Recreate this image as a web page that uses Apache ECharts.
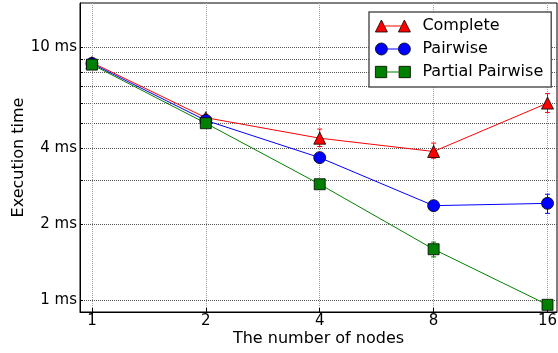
<!DOCTYPE html>
<html><head><meta charset="utf-8">
<script src="https://cdn.jsdelivr.net/npm/echarts@6/dist/echarts.min.js"></script>
<style>html,body{margin:0;padding:0;background:#fff}#c{width:558px;height:353px}</style>
</head><body><div id="c"></div>
<script>
// ---- data ----
const nodes = [1, 2, 4, 8, 16];
const seriesNames = ['Complete', 'Pairwise', 'Partial Pairwise'];
const completeMean = [8.72, 5.28, 4.38, 3.88, 6.03];
const completeLow  = [8.40, 5.18, 4.06, 3.65, 5.54];
const completeHigh = [9.10, 5.40, 4.76, 4.19, 6.57];
const pairwiseMean = [8.64, 5.15, 3.67, 2.37, 2.42];
const pairwiseLow  = [8.45, 5.05, 3.58, 2.30, 2.21];
const pairwiseHigh = [8.85, 5.25, 3.77, 2.45, 2.63];
const partialMean  = [8.56, 5.02, 2.88, 1.594, 0.961];
const partialLow   = [8.40, 4.95, 2.82, 1.486, 0.940];
const partialHigh  = [8.72, 5.10, 2.95, 1.700, 0.985];
const xTickValues = [1, 2, 4, 8, 16];
const yLabelValues = [1, 2, 4, 10];
const yGridValues = [1, 2, 3, 4, 5, 6, 7, 8, 9, 10];

const colors = ['#ff0000', '#0000ff', '#008000'];
const symbols = ['triangle', 'circle', 'rect'];
const symbolSizes = [[12, 12], 12, 11];
const means = [completeMean, pairwiseMean, partialMean];
const lows = [completeLow, pairwiseLow, partialLow];
const highs = [completeHigh, pairwiseHigh, partialHigh];

const FONT = 'DejaVu Sans';

function errRender(color) {
  return function (params, api) {
    const x = api.value(0), lo = api.value(1), hi = api.value(2);
    const p1 = api.coord([x, lo]), p2 = api.coord([x, hi]);
    const w = 2.5;
    const st = { stroke: color, lineWidth: 1 };
    return { type: 'group', children: [
      { type: 'line', shape: { x1: p1[0], y1: p1[1], x2: p2[0], y2: p2[1] }, style: st },
      { type: 'line', shape: { x1: p1[0] - w, y1: p1[1], x2: p1[0] + w, y2: p1[1] }, style: st },
      { type: 'line', shape: { x1: p2[0] - w, y1: p2[1], x2: p2[0] + w, y2: p2[1] }, style: st }
    ]};
  };
}

const series = [];
seriesNames.forEach((name, i) => {
  series.push({
    type: 'custom', name: name + ' error', z: 2 + i * 2,
    renderItem: errRender(colors[i]),
    encode: { x: 0, y: [1, 2] },
    data: nodes.map((n, k) => [n, lows[i][k], highs[i][k]]),
    silent: true
  });
  series.push({
    type: 'line', name: name, z: 3 + i * 2,
    data: nodes.map((n, k) => [n, means[i][k]]),
    symbol: symbols[i], symbolSize: symbolSizes[i],
    lineStyle: { color: colors[i], width: 1 },
    itemStyle: { color: colors[i], borderColor: '#000', borderWidth: 0.8 },
    emphasis: { disabled: true },
    animation: false
  });
});

const markerIcons = [
  'path://M0,12 L6,0 L12,12 Z M23,12 L29,0 L35,12 Z',
  'path://M0,6 A6,6 0 1 1 12,6 A6,6 0 1 1 0,6 Z M23,6 A6,6 0 1 1 35,6 A6,6 0 1 1 23,6 Z',
  'path://M0.5,0.5 L11.5,0.5 L11.5,11.5 L0.5,11.5 Z M23.5,0.5 L34.5,0.5 L34.5,11.5 L23.5,11.5 Z'
];
const lineIcon = 'path://M0,0 L0,0 Z M35,12 L35,12 Z M6,5.5 L29,5.5 L29,6.5 L6,6.5 Z';

const legendCommon = {
  orient: 'vertical', left: 369, top: 12,
  itemWidth: 35, itemHeight: 12, itemGap: 7,
  padding: [6, 8, 7, 6],
  selectedMode: false
};

const option = {
  animation: false,
  textStyle: { fontFamily: FONT },
  grid: { left: 80, right: 1, top: 3, bottom: 41, outerBoundsMode: 'none', containLabel: false,
          show: true, borderColor: '#000', borderWidth: 1, backgroundColor: 'transparent' },
  legend: [
    Object.assign({}, legendCommon, {
      z: 10,
      backgroundColor: '#fff', borderColor: '#555', borderWidth: 1.5, borderRadius: 0,
      data: seriesNames.map((n, i) => ({ name: n, icon: markerIcons[i],
        itemStyle: { color: colors[i], borderColor: '#000', borderWidth: 0.8 } })),
      textStyle: { fontFamily: FONT, fontSize: 16, color: '#000', lineHeight: 16, padding: [0, 0, 0, 7] }
    }),
    Object.assign({}, legendCommon, {
      z: 11,
      data: seriesNames.map((n, i) => ({ name: n, icon: lineIcon,
        itemStyle: { color: colors[i], borderWidth: 0 } })),
      formatter: () => ' ',
      textStyle: { fontFamily: FONT, fontSize: 16, lineHeight: 16 }
    })
  ],
  xAxis: {
    type: 'log', logBase: 2, min: 0.93, max: 16.95,
    name: 'The number of nodes', nameLocation: 'middle', nameGap: 19, nameMoveOverlap: false,
    nameTextStyle: { fontFamily: FONT, fontSize: 16, color: '#000' },
    axisLine: { show: true, lineStyle: { color: '#000', width: 1 } },
    axisTick: { show: true, inside: true, length: 4, customValues: xTickValues, lineStyle: { color: '#000' } },
    axisLabel: { customValues: xTickValues, margin: 2, fontFamily: FONT, fontSize: 15, color: '#000', formatter: v => String(Math.round(v)) },
    splitLine: { show: true, lineStyle: { color: '#999', type: [1, 1], width: 1 } },
    minorTick: { show: false }
  },
  yAxis: {
    type: 'log', logBase: 10, min: 0.9, max: 15,
    name: 'Execution time', nameLocation: 'middle', nameGap: 53, nameMoveOverlap: false,
    nameTextStyle: { fontFamily: FONT, fontSize: 16, color: '#000' },
    axisLine: { show: true, lineStyle: { color: '#000', width: 1 } },
    axisTick: { show: true, inside: true, length: 3, customValues: yGridValues, lineStyle: { color: '#000' } },
    axisLabel: { customValues: yLabelValues, margin: 3, fontFamily: FONT, fontSize: 15, color: '#000', formatter: v => Math.round(v) + ' ms' },
    splitLine: { show: true, lineStyle: { color: '#555', type: [1, 1], width: 1 } }
  },
  series: series
};

const chart = echarts.init(document.getElementById('c'), null, { renderer: 'canvas' });
chart.setOption(option);
</script>
</body></html>
